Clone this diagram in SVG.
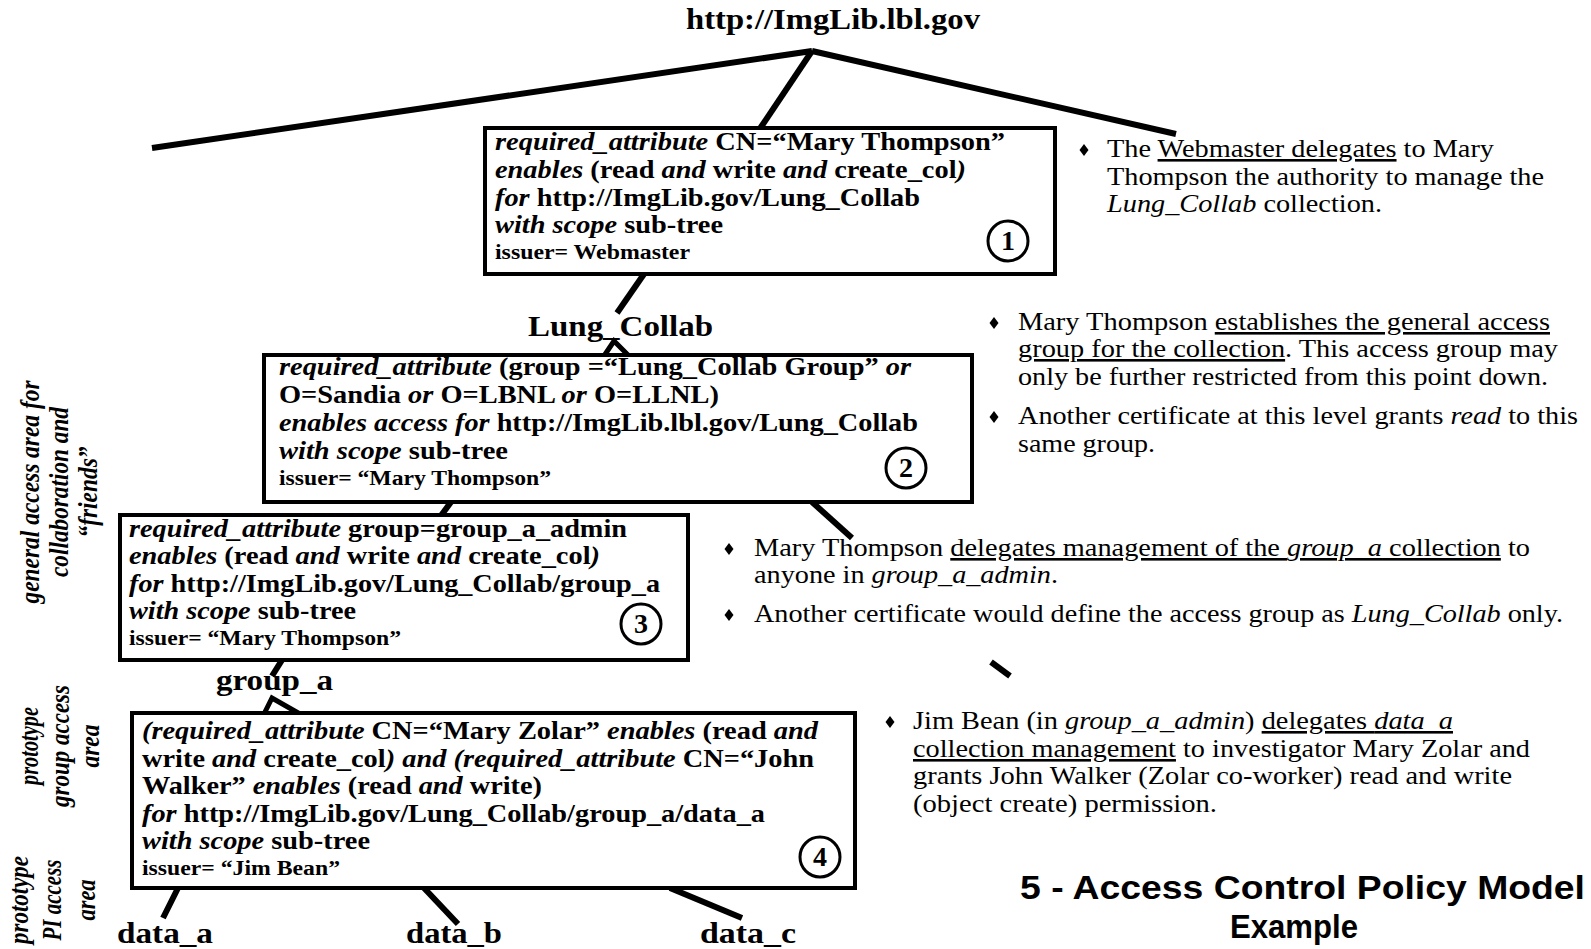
<svg xmlns="http://www.w3.org/2000/svg" width="1591" height="949" viewBox="0 0 1591 949">
  <style>
    .bg { fill: #ffffff; }
    .box { fill: #ffffff; stroke: #000000; stroke-width: 4; }
    .num { fill: #ffffff; stroke: #000000; stroke-width: 3; }
    .serif { font-family: "Liberation Serif", "Times New Roman", Tinos, Times, serif; }
    .sans { font-family: "Liberation Sans", Arial, Arimo, Helvetica, sans-serif; }
    .numt { font-weight: bold; font-size: 28px; text-anchor: middle; fill: #000; }
    .conn line, .conn polyline { stroke: #000000; stroke-width: 6; fill: none; stroke-linecap: butt; }
    .bt { font-weight: bold; font-size: 26px; fill: #000; }
    .bt .i { font-style: italic; }
    .iss { font-weight: bold; font-size: 20px; fill: #000; }
    .lbl { font-weight: bold; font-size: 30px; fill: #000; }
    .side { font-style: italic; font-weight: bold; font-size: 27px; text-anchor: middle; fill: #000; }
    .note { font-size: 26px; fill: #000; }
    .note .i { font-style: italic; }
    .note .u { text-decoration: underline; }
    .title { font-weight: bold; font-size: 34px; fill: #000; }
  </style>
  <defs>
    <path id="dia" d="M0,-6 L4.5,0 L0,6 L-4.5,0 Z" fill="#000"/>
  </defs>
  <rect class="bg" x="0" y="0" width="1591" height="949"/>

  <!-- connectors of the collection tree -->
  <g id="connectors" class="conn">
    <line x1="812" y1="51" x2="152" y2="148"/>
    <line x1="812" y1="51" x2="759" y2="130"/>
    <line x1="812" y1="51" x2="1176" y2="134"/>
    <line x1="644" y1="274" x2="617" y2="313"/>
    <polyline points="604,356 614,341 629,356" style="stroke-width:5"/>
    <line x1="451" y1="502" x2="440" y2="517"/>
    <line x1="812" y1="502" x2="852" y2="538"/>
    <line x1="991" y1="662" x2="1010" y2="676"/>
    <line x1="282" y1="660" x2="272" y2="676"/>
    <polyline points="264,714 272,698 300,714" style="stroke-width:5"/>
    <line x1="178" y1="888" x2="163" y2="918"/>
    <line x1="424" y1="888" x2="458" y2="924"/>
    <line x1="670" y1="888" x2="742" y2="918"/>
  </g>

  <g class="serif">
  <!-- tree labels -->
  <g id="root">
    <text class="lbl" x="686" y="29" textLength="294" lengthAdjust="spacingAndGlyphs">http://ImgLib.lbl.gov</text>
  </g>
  <g id="lung-collab">
    <text class="lbl" x="528" y="336" textLength="185" lengthAdjust="spacingAndGlyphs">Lung_Collab</text>
  </g>
  <g id="group-a">
    <text class="lbl" x="216" y="690" textLength="117" lengthAdjust="spacingAndGlyphs">group_a</text>
  </g>
  <g id="data-a">
    <text class="lbl" x="117" y="943" textLength="96" lengthAdjust="spacingAndGlyphs">data_a</text>
  </g>
  <g id="data-b">
    <text class="lbl" x="406" y="943" textLength="96" lengthAdjust="spacingAndGlyphs">data_b</text>
  </g>
  <g id="data-c">
    <text class="lbl" x="700" y="943" textLength="96" lengthAdjust="spacingAndGlyphs">data_c</text>
  </g>

  <!-- certificate 1 -->
  <g id="cert1">
    <rect class="box" x="485" y="128" width="570" height="146"/>
    <text class="bt" x="495" y="150" textLength="510" lengthAdjust="spacingAndGlyphs"><tspan class="i">required_attribute</tspan> CN=“Mary Thompson”</text>
    <text class="bt" x="495" y="178" textLength="471" lengthAdjust="spacingAndGlyphs"><tspan class="i">enables</tspan> (read <tspan class="i">and</tspan> write <tspan class="i">and</tspan> create_col<tspan class="i">)</tspan></text>
    <text class="bt" x="495" y="206" textLength="425" lengthAdjust="spacingAndGlyphs"><tspan class="i">for</tspan> http://ImgLib.gov/Lung_Collab</text>
    <text class="bt" x="495" y="233" textLength="228" lengthAdjust="spacingAndGlyphs"><tspan class="i">with scope</tspan> sub-tree</text>
    <text class="iss" x="495" y="259" textLength="195" lengthAdjust="spacingAndGlyphs">issuer= Webmaster</text>
    <circle class="num" cx="1008" cy="241" r="20"/>
    <text class="numt" x="1008" y="250">1</text>
  </g>

  <!-- certificate 2 -->
  <g id="cert2">
    <rect class="box" x="264" y="355" width="708" height="147"/>
    <text class="bt" x="279" y="375" textLength="632" lengthAdjust="spacingAndGlyphs"><tspan class="i">required_attribute</tspan> (group =“Lung_Collab Group” <tspan class="i">or</tspan></text>
    <text class="bt" x="279" y="403" textLength="440" lengthAdjust="spacingAndGlyphs">O=Sandia <tspan class="i">or</tspan> O=LBNL <tspan class="i">or</tspan> O=LLNL)</text>
    <text class="bt" x="279" y="431" textLength="639" lengthAdjust="spacingAndGlyphs"><tspan class="i">enables access for</tspan> http://ImgLib.lbl.gov/Lung_Collab</text>
    <text class="bt" x="279" y="459" textLength="229" lengthAdjust="spacingAndGlyphs"><tspan class="i">with scope</tspan> sub-tree</text>
    <text class="iss" x="279" y="485" textLength="272" lengthAdjust="spacingAndGlyphs">issuer= “Mary Thompson”</text>
    <circle class="num" cx="906" cy="468" r="20"/>
    <text class="numt" x="906" y="477">2</text>
  </g>

  <!-- certificate 3 -->
  <g id="cert3">
    <rect class="box" x="120" y="515" width="568" height="145"/>
    <text class="bt" x="129" y="537" textLength="498" lengthAdjust="spacingAndGlyphs"><tspan class="i">required_attribute</tspan> group=group_a_admin</text>
    <text class="bt" x="129" y="564" textLength="471" lengthAdjust="spacingAndGlyphs"><tspan class="i">enables</tspan> (read <tspan class="i">and</tspan> write <tspan class="i">and</tspan> create_col<tspan class="i">)</tspan></text>
    <text class="bt" x="129" y="592" textLength="531" lengthAdjust="spacingAndGlyphs"><tspan class="i">for</tspan> http://ImgLib.gov/Lung_Collab/group_a</text>
    <text class="bt" x="129" y="619" textLength="227" lengthAdjust="spacingAndGlyphs"><tspan class="i">with scope</tspan> sub-tree</text>
    <text class="iss" x="129" y="645" textLength="272" lengthAdjust="spacingAndGlyphs">issuer= “Mary Thompson”</text>
    <circle class="num" cx="641" cy="624" r="20"/>
    <text class="numt" x="641" y="633">3</text>
  </g>

  <!-- certificate 4 -->
  <g id="cert4">
    <rect class="box" x="132" y="713" width="723" height="175"/>
    <text class="bt" x="142" y="739" textLength="676" lengthAdjust="spacingAndGlyphs"><tspan class="i">(required_attribute</tspan> CN=“Mary Zolar” <tspan class="i">enables</tspan> (read <tspan class="i">and</tspan></text>
    <text class="bt" x="142" y="767" textLength="672" lengthAdjust="spacingAndGlyphs">write <tspan class="i">and</tspan> create_col<tspan class="i">) and (required_attribute</tspan> CN=“John</text>
    <text class="bt" x="142" y="794" textLength="400" lengthAdjust="spacingAndGlyphs">Walker” <tspan class="i">enables</tspan> (read <tspan class="i">and</tspan> write)</text>
    <text class="bt" x="142" y="822" textLength="623" lengthAdjust="spacingAndGlyphs"><tspan class="i">for</tspan> http://ImgLib.gov/Lung_Collab/group_a/data_a</text>
    <text class="bt" x="142" y="849" textLength="228" lengthAdjust="spacingAndGlyphs"><tspan class="i">with scope</tspan> sub-tree</text>
    <text class="iss" x="142" y="875" textLength="198" lengthAdjust="spacingAndGlyphs">issuer= “Jim Bean”</text>
    <circle class="num" cx="820" cy="857" r="20"/>
    <text class="numt" x="820" y="866">4</text>
  </g>

  <!-- access-area captions along the left edge -->
  <g id="area-general">
    <text class="side" transform="translate(39,492) rotate(-90)" textLength="223" lengthAdjust="spacingAndGlyphs">general access area for</text>
    <text class="side" transform="translate(68,492) rotate(-90)" textLength="170" lengthAdjust="spacingAndGlyphs">collaboration and</text>
    <text class="side" transform="translate(97,492) rotate(-90)" textLength="91" lengthAdjust="spacingAndGlyphs">“friends”</text>
  </g>
  <g id="area-group">
    <text class="side" transform="translate(38,746) rotate(-90)" textLength="78" lengthAdjust="spacingAndGlyphs">prototype</text>
    <text class="side" transform="translate(69,746) rotate(-90)" textLength="122" lengthAdjust="spacingAndGlyphs">group access</text>
    <text class="side" transform="translate(99,746) rotate(-90)" textLength="43" lengthAdjust="spacingAndGlyphs">area</text>
  </g>
  <g id="area-pi">
    <text class="side" transform="translate(28,900) rotate(-90)" textLength="88" lengthAdjust="spacingAndGlyphs">prototype</text>
    <text class="side" transform="translate(61,900) rotate(-90)" textLength="81" lengthAdjust="spacingAndGlyphs">PI access</text>
    <text class="side" transform="translate(95,900) rotate(-90)" textLength="41" lengthAdjust="spacingAndGlyphs">area</text>
  </g>

  <!-- explanatory notes -->
  <g id="note1">
    <use href="#dia" x="1084" y="150"/>
    <text class="note" x="1107" y="157" textLength="387" lengthAdjust="spacingAndGlyphs">The <tspan class="u">Webmaster delegates</tspan> to Mary</text>
    <text class="note" x="1107" y="185" textLength="437" lengthAdjust="spacingAndGlyphs">Thompson the authority to manage the</text>
    <text class="note" x="1107" y="212" textLength="275" lengthAdjust="spacingAndGlyphs"><tspan class="i">Lung_Collab</tspan> collection.</text>
  </g>
  <g id="note2">
    <use href="#dia" x="994" y="323"/>
    <text class="note" x="1018" y="330" textLength="532" lengthAdjust="spacingAndGlyphs">Mary Thompson <tspan class="u">establishes the general access</tspan></text>
    <text class="note" x="1018" y="357" textLength="540" lengthAdjust="spacingAndGlyphs"><tspan class="u">group for the collection</tspan>. This access group may</text>
    <text class="note" x="1018" y="385" textLength="530" lengthAdjust="spacingAndGlyphs">only be further restricted from this point down.</text>
  </g>
  <g id="note3">
    <use href="#dia" x="994" y="417"/>
    <text class="note" x="1018" y="424" textLength="560" lengthAdjust="spacingAndGlyphs">Another certificate at this level grants <tspan class="i">read</tspan> to this</text>
    <text class="note" x="1018" y="452" textLength="137" lengthAdjust="spacingAndGlyphs">same group.</text>
  </g>
  <g id="note4">
    <use href="#dia" x="729" y="549"/>
    <text class="note" x="754" y="556" textLength="776" lengthAdjust="spacingAndGlyphs">Mary Thompson <tspan class="u">delegates management of the <tspan class="i">group_a</tspan> collection</tspan> to</text>
    <text class="note" x="754" y="583" textLength="304" lengthAdjust="spacingAndGlyphs">anyone in <tspan class="i">group_a_admin</tspan>.</text>
  </g>
  <g id="note5">
    <use href="#dia" x="729" y="615"/>
    <text class="note" x="754" y="622" textLength="809" lengthAdjust="spacingAndGlyphs">Another certificate would define the access group as <tspan class="i">Lung_Collab</tspan> only.</text>
  </g>
  <g id="note6">
    <use href="#dia" x="890" y="722"/>
    <text class="note" x="913" y="729" textLength="540" lengthAdjust="spacingAndGlyphs">Jim Bean (in <tspan class="i">group_a_admin</tspan>) <tspan class="u">delegates <tspan class="i">data_a</tspan></tspan></text>
    <text class="note" x="913" y="757" textLength="617" lengthAdjust="spacingAndGlyphs"><tspan class="u">collection management</tspan> to investigator Mary Zolar and</text>
    <text class="note" x="913" y="784" textLength="599" lengthAdjust="spacingAndGlyphs">grants John Walker (Zolar co-worker) read and write</text>
    <text class="note" x="913" y="812" textLength="304" lengthAdjust="spacingAndGlyphs">(object create) permission.</text>
  </g>
  </g>

  <!-- figure caption -->
  <g id="caption" class="sans">
    <text class="title" x="1020" y="899" textLength="565" lengthAdjust="spacingAndGlyphs">5 - Access Control Policy Model</text>
    <text class="title" x="1230" y="938" textLength="128" lengthAdjust="spacingAndGlyphs">Example</text>
  </g>
</svg>
